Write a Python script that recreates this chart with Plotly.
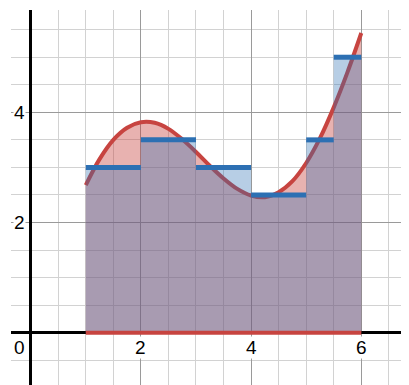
import plotly.graph_objects as go

# Curve samples
curve_x = [1.0, 1.25, 1.5, 1.75, 2.0, 2.25, 2.5, 2.75, 3.0, 3.25, 3.5, 3.75,
           4.0, 4.25, 4.5, 4.75, 5.0, 5.25, 5.5, 5.75, 6.0]
curve_y = [2.68, 3.15, 3.50, 3.72, 3.82, 3.81, 3.70, 3.51, 3.28, 3.03, 2.80, 2.61,
           2.49, 2.46, 2.55, 2.75, 3.08, 3.53, 4.09, 4.73, 5.44]

# Step function: left edges, right edges, heights
step_left = [1, 2, 3, 4, 5, 5.5]
step_right = [2, 3, 4, 5, 5.5, 6]
step_height = [3.0, 3.5, 3.0, 2.5, 3.5, 5.0]

# Axis tick labels
x_tick_vals = [2, 4, 6]
x_tick_text = ["2", "4", "6"]
y_tick_vals = [2, 4]
y_tick_text = ["2", "4"]

RED = "#c74440"
BLUE = "#2d70b3"

fig = go.Figure()

# Red region under curve, with curve line
fig.add_trace(go.Scatter(
    x=curve_x, y=curve_y, mode="lines", line=dict(color=RED, width=4, shape="spline"),
    fill="tozeroy", fillcolor="rgba(199,68,64,0.41)", hoverinfo="skip", showlegend=False))

# Blue region under step function
sx = step_left + [step_right[-1]]
sy = step_height + [step_height[-1]]
fig.add_trace(go.Scatter(
    x=sx, y=sy, mode="lines", line=dict(width=0, shape="hv", color=BLUE),
    fill="tozeroy", fillcolor="rgba(45,112,179,0.34)", hoverinfo="skip", showlegend=False))

# Blue step segments
seg_x, seg_y = [], []
for l, r, h in zip(step_left, step_right, step_height):
    seg_x += [l, r, None]
    seg_y += [h, h, None]
fig.add_trace(go.Scatter(
    x=seg_x, y=seg_y, mode="lines", line=dict(color=BLUE, width=5),
    hoverinfo="skip", showlegend=False))

# Red baseline
fig.add_trace(go.Scatter(
    x=[curve_x[0], curve_x[-1]], y=[0, 0], mode="lines", line=dict(color=RED, width=4),
    hoverinfo="skip", showlegend=False))

annotations = []
font = dict(family="Liberation Sans, Arial, sans-serif", size=19, color="#000")
for v, t in zip(x_tick_vals, x_tick_text):
    annotations.append(dict(x=v, y=0, xref="x", yref="y", text=t, showarrow=False,
                            xanchor="center", yanchor="top", yshift=-3, font=font,
                            bgcolor="white", borderpad=0))
for v, t in zip(y_tick_vals, y_tick_text):
    annotations.append(dict(x=0, y=v, xref="x", yref="y", text=t, showarrow=False,
                            xanchor="right", yanchor="middle", xshift=-5, font=font,
                            bgcolor="white", borderpad=0))
annotations.append(dict(x=0, y=0, xref="x", yref="y", text="0", showarrow=False,
                        xanchor="right", yanchor="top", xshift=-5, yshift=-3, font=font,
                        bgcolor="white", borderpad=0))

axis_common = dict(
    showticklabels=False, ticks="", showline=False,
    dtick=2, tick0=0, showgrid=True, gridcolor="#9a9a9a", gridwidth=1,
    minor=dict(dtick=0.5, tick0=0, showgrid=True, gridcolor="#d2d2d2", gridwidth=1),
    zeroline=True, zerolinecolor="#000", zerolinewidth=2.5, fixedrange=True,
)

fig.update_layout(
    width=401, height=377,
    margin=dict(l=3, r=0, t=2, b=0),
    paper_bgcolor="white", plot_bgcolor="white",
    xaxis=dict(range=[-0.3575, 6.866], **axis_common),
    yaxis=dict(range=[-0.949, 5.857], **axis_common),
    annotations=annotations,
    showlegend=False,
)

fig.write_html("out.html")
